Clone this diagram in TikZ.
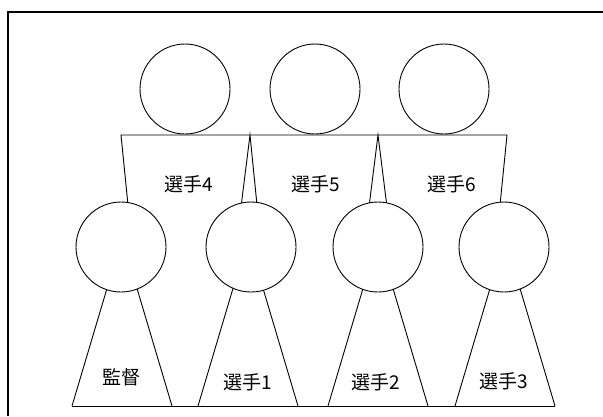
\documentclass[tikz,border=0pt]{standalone}
\usepackage{fontspec}
\newfontfamily\jp{Noto Sans CJK JP}
\usetikzlibrary{calc}

\begin{document}
\begin{tikzpicture}[x=1pt, y=-1pt, line width=0.9pt,
    head/.style={circle, draw=black, fill=white, minimum size=90pt, inner sep=0pt},
    label/.style={font=\jp\fontsize{19}{19}\selectfont}]
    \useasboundingbox (0,0) rectangle (603,416);
    % frame (only top and left edge)
    \draw[line width=2.4pt] (603,12) -- (8,12) -- (8,416);
    % back row: bodies, then heads
    \draw (129,215) -- (121,135) -- (507,135) -- (499,215);
    \draw (240,215) -- (250,135) -- (258,215);
    \draw (368,215) -- (378,135) -- (388,215);
    \node[head] (s4) at (185,89) {};
    \node[head] (s5) at (315,89) {};
    \node[head] (s6) at (444,89) {};
    % front row: bodies, then heads
    \draw (72,406) -- (555,406);
    \foreach \cx in {122,248,378,505}
        \draw (\cx-50,406) -- (\cx-11,275) (\cx+50,406) -- (\cx+11,275);
    \node[head] (kt) at (121,247) {};
    \node[head] (s1) at (251,247) {};
    \node[head] (s2) at (378,247) {};
    \node[head] (s3) at (504,247) {};
    % names
    \node[label] (n4) at (189,184) {選手4};
    \node[label] (n5) at (316,184) {選手5};
    \node[label] (n6) at (452,184) {選手6};
    \node[label] (nk) at (121,377) {監督};
    \node[label] (n1) at (248,382) {選手1};
    \node[label] (n2) at (376,382) {選手2};
    \node[label] (n3) at (504,381) {選手3};
\end{tikzpicture}
\end{document}
